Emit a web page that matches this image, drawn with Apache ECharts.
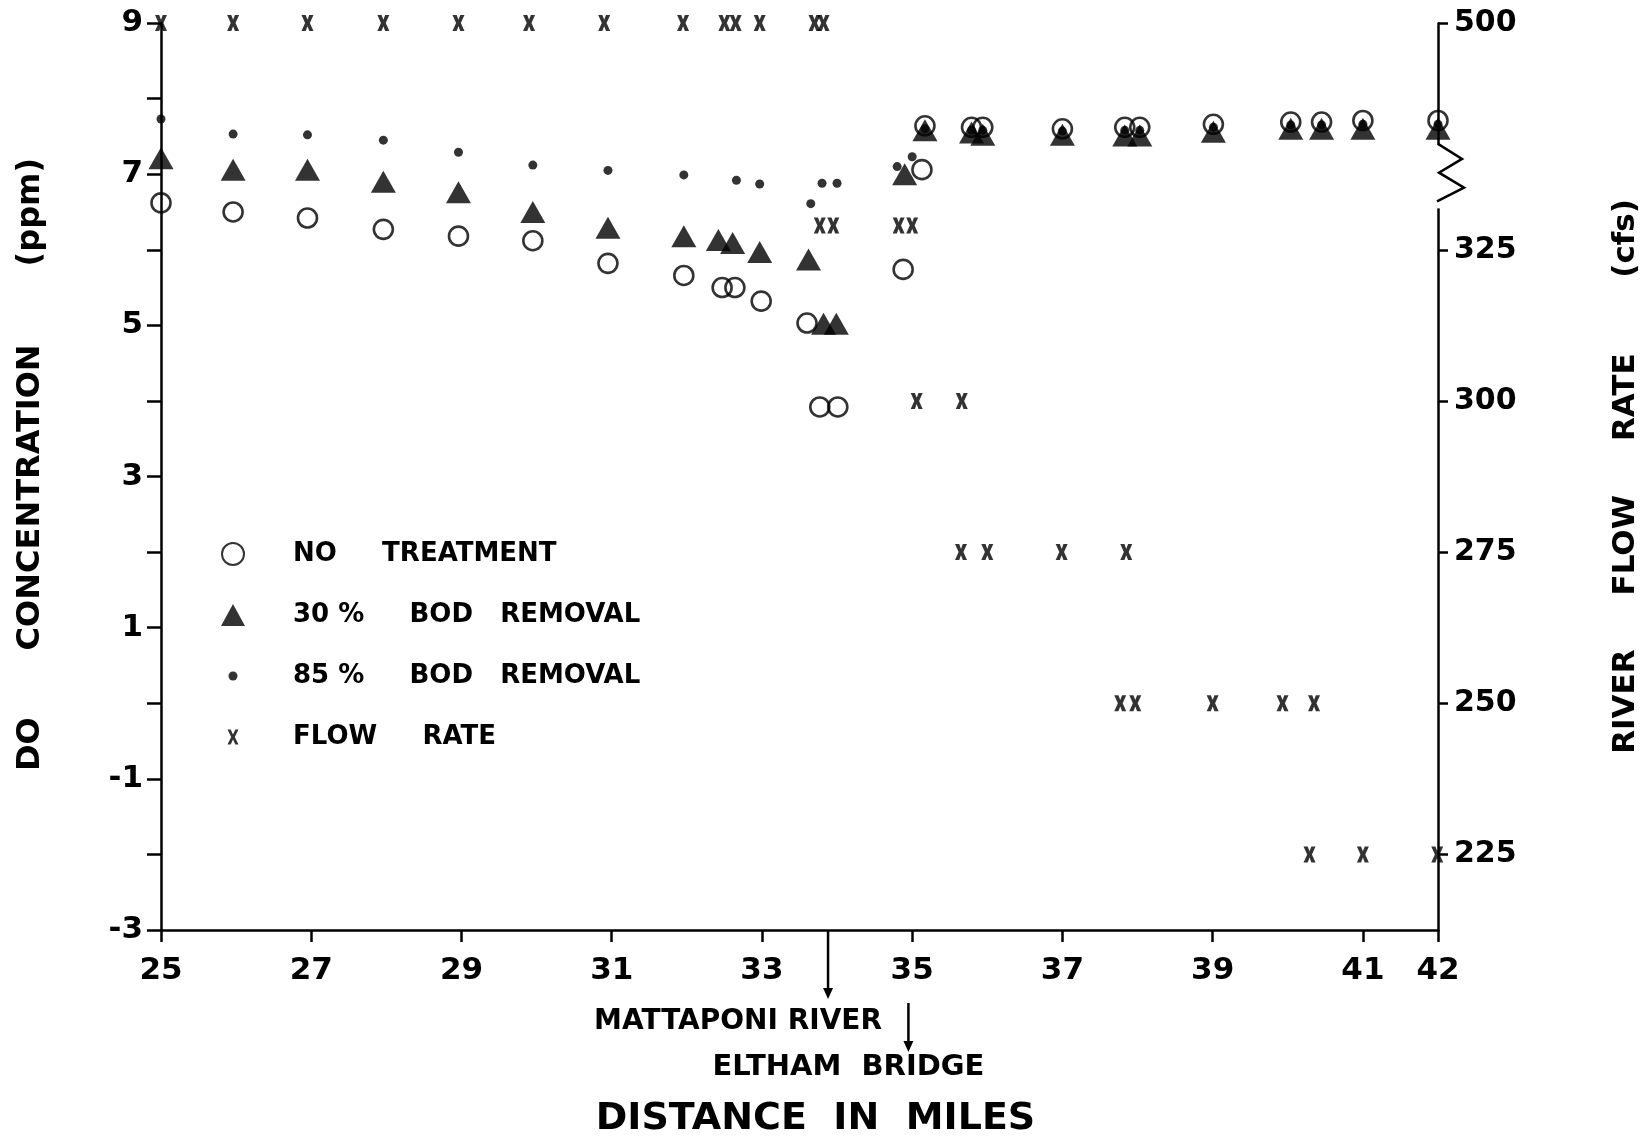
<!DOCTYPE html>
<html>
<head>
<meta charset="utf-8">
<script src="https://cdn.jsdelivr.net/npm/echarts@6.0.0/dist/echarts.min.js"></script>
<style>html,body{margin:0;padding:0;background:#fff}#c{width:1652px;height:1136px}</style>
</head>
<body>
<div id="c"></div>
<script>
// ---------------- data ----------------
const xTickValues = [25, 27, 29, 31, 33, 35, 37, 39, 41, 42];
const rightTickValues = [225, 250, 275, 300, 325, 500];

const noTreatMiles = [25, 25.96, 26.95, 27.96, 28.96, 29.95, 30.95, 31.96, 32.47, 32.64, 32.99, 33.6, 33.77, 34.01, 34.88, 35.13, 35.17, 35.79, 35.94, 37.0, 37.83, 38.03, 39.01, 40.04, 40.45, 41.0, 42.0];
const noTreatDO    = [6.62, 6.50, 6.42, 6.27, 6.18, 6.12, 5.82, 5.66, 5.50, 5.50, 5.32, 5.03, 3.92, 3.92, 5.74, 7.06, 7.64, 7.62, 7.62, 7.60, 7.62, 7.62, 7.66, 7.69, 7.69, 7.71, 7.71];

const bod30Miles = [25, 25.96, 26.95, 27.96, 28.96, 29.95, 30.95, 31.96, 32.42, 32.61, 32.97, 33.62, 33.82, 33.99, 34.9, 35.17, 35.79, 35.94, 37.0, 37.83, 38.03, 39.01, 40.04, 40.45, 41.0, 42.0];
const bod30DO    = [7.21, 7.06, 7.06, 6.90, 6.76, 6.50, 6.29, 6.18, 6.13, 6.09, 5.97, 5.87, 5.02, 5.02, 7.00, 7.58, 7.55, 7.52, 7.52, 7.51, 7.51, 7.56, 7.60, 7.60, 7.60, 7.60];

const bod85Miles = [25, 25.96, 26.95, 27.96, 28.96, 29.95, 30.95, 31.96, 32.66, 32.97, 33.65, 33.8, 34.0, 34.8, 35.0, 35.17, 35.79, 35.94, 37.0, 37.83, 38.03, 39.01, 40.04, 40.45, 41.0, 42.0];
const bod85DO    = [7.73, 7.53, 7.52, 7.45, 7.29, 7.12, 7.05, 6.99, 6.92, 6.87, 6.61, 6.88, 6.88, 7.10, 7.23, 7.60, 7.58, 7.58, 7.57, 7.58, 7.58, 7.62, 7.65, 7.65, 7.66, 7.66];

const flowMiles = [25, 25.96, 26.95, 27.96, 28.96, 29.9, 30.9, 31.95, 32.5, 32.65, 32.97, 33.7, 33.82,
                   33.77, 33.95, 34.82, 35.0,
                   35.06, 35.66,
                   35.65, 36.0, 36.99, 37.85,
                   37.77, 37.97, 39.0, 39.93, 40.35,
                   40.29, 41.0, 41.99];
const flowCfs   = [500, 500, 500, 500, 500, 500, 500, 500, 500, 500, 500, 500, 500,
                   329, 329, 329, 329,
                   300, 300,
                   275, 275, 275, 275,
                   250, 250, 250, 250, 250,
                   225, 225, 225];

const seriesNames = ['NO TREATMENT', '30 % BOD REMOVAL', '85 % BOD REMOVAL', 'FLOW RATE'];
const legendLabels = ['NO     TREATMENT', '30 %     BOD   REMOVAL', '85 %     BOD   REMOVAL', 'FLOW     RATE'];
const annotMiles = [33.88, 34.95];
const annotLabels = ['MATTAPONI RIVER', 'ELTHAM  BRIDGE'];

// ---------------- chart ----------------
const FONT = 'DejaVu Sans';
const zip = (a, b) => a.map((v, i) => [v, b[i]]);
const X_PATH = 'path://M0,0 H4.2 L6,6 L7.8,0 H12 L8.4,10 L12,20 H7.8 L6,14 L4.2,20 H0 L3.6,10 Z';
const X_ICON = 'path://M0,0 M22,22 M5.5,3.5 H8.7 L11,8.5 L13.3,3.5 H16.5 L12.8,11 L16.5,18.5 H13.3 L11,13.5 L8.7,18.5 H5.5 L9.2,11 Z';
const DOT_ICON = 'path://M0,0 M22,22 M6.5,11 A4.5,4.5 0 1,0 15.5,11 A4.5,4.5 0 1,0 6.5,11 Z';
const TRI_ICON = 'path://M12,0 L24,22 L0,22 Z';

const axisLineStyle = { color: '#000', width: 2.5 };
const labelFont = { color: '#000', fontFamily: FONT, fontWeight: 'bold' };

const chart = echarts.init(document.getElementById('c'), null, { renderer: 'canvas' });

chart.setOption({
  animation: false,
  backgroundColor: '#fff',
  grid: { left: 161, right: 214, top: 23, bottom: 206, containLabel: false, outerBoundsMode: 'none' },
  legend: {
    orient: 'vertical', left: 216, top: 536,
    itemWidth: 24, itemHeight: 22, itemGap: 35,
    selectedMode: false,
    data: [
      { name: seriesNames[0], icon: 'circle' },
      { name: seriesNames[1], icon: TRI_ICON },
      { name: seriesNames[2], icon: DOT_ICON },
      { name: seriesNames[3], icon: X_ICON }
    ],
    formatter: n => legendLabels[seriesNames.indexOf(n)],
    textStyle: Object.assign({ fontSize: 26, padding: [0, 0, 0, 43] }, labelFont)
  },
  xAxis: {
    type: 'value', min: 25, max: 42,
    axisLine: { show: true, onZero: false, lineStyle: axisLineStyle },
    axisTick: { show: true, customValues: xTickValues, length: 12, lineStyle: axisLineStyle },
    axisLabel: Object.assign({ customValues: xTickValues, margin: 25, fontSize: 31 }, labelFont),
    splitLine: { show: false },
    name: 'DISTANCE  IN  MILES', nameLocation: 'middle', nameGap: 170,
    nameTextStyle: Object.assign({ fontSize: 38, padding: [0, 0, 0, 32] }, labelFont)
  },
  yAxis: [
    {
      type: 'value', position: 'left', min: -3, max: 9, interval: 1,
      axisLine: { show: true, onZero: false, lineStyle: axisLineStyle },
      axisTick: { show: true, length: 14, lineStyle: axisLineStyle },
      axisLabel: Object.assign({ margin: 18, fontSize: 31,
        formatter: v => (Math.abs(v) % 2 === 1 ? String(v) : '') }, labelFont),
      splitLine: { show: false },
      name: 'DO      CONCENTRATION       (ppm)', nameLocation: 'middle', nameRotate: 90, nameGap: 114,
      nameTextStyle: Object.assign({ fontSize: 32, padding: [0, 0, 0, 24] }, labelFont)
    },
    {
      type: 'value', position: 'right', min: 212.5, max: 500,
      breaks: [{ start: 333, end: 480, gap: 9.5 }],
      breakArea: { show: false },
      axisLine: { show: true, onZero: false, lineStyle: axisLineStyle },
      axisTick: { show: true, customValues: rightTickValues, length: 10, lineStyle: axisLineStyle },
      axisLabel: Object.assign({ customValues: rightTickValues, margin: 16, fontSize: 30 }, labelFont),
      splitLine: { show: false },
      name: 'RIVER     FLOW     RATE       (cfs)', nameLocation: 'middle', nameRotate: 90, nameGap: 172,
      nameTextStyle: Object.assign({ fontSize: 31 }, labelFont)
    }
  ],
  series: [
    {
      name: seriesNames[1], type: 'scatter', data: zip(bod30Miles, bod30DO), clip: false,
      symbol: 'triangle', symbolSize: [25, 22], itemStyle: { color: '#000' }, z: 2,
      emphasis: { disabled: true }
    },
    {
      name: seriesNames[0], type: 'scatter', data: zip(noTreatMiles, noTreatDO), clip: false,
      symbol: 'circle', symbolSize: 19,
      itemStyle: { color: 'rgba(0,0,0,0)', borderColor: '#000', borderWidth: 2.6 }, z: 3,
      emphasis: { disabled: true }
    },
    {
      name: seriesNames[2], type: 'scatter', data: zip(bod85Miles, bod85DO), clip: false,
      symbol: 'circle', symbolSize: 9, itemStyle: { color: '#000' }, z: 4,
      emphasis: { disabled: true }
    },
    {
      name: seriesNames[3], type: 'scatter', yAxisIndex: 1, data: zip(flowMiles, flowCfs), clip: false,
      symbol: X_PATH, symbolSize: [12, 16], itemStyle: { color: '#000' }, z: 4,
      emphasis: { disabled: true }
    }
  ]
});

// ---------------- annotations (positions from the axes) ----------------
const px = v => chart.convertToPixel({ xAxisIndex: 0 }, v);
const pyR = v => chart.convertToPixel({ yAxisIndex: 1 }, v);
const yBase = chart.convertToPixel({ yAxisIndex: 0 }, -3);
const xR = px(42);
const yA = pyR(480), yB = pyR(333), h = yB - yA;
const xM = px(annotMiles[0]), xE = px(annotMiles[1]);
const txt = (s, x, y, size) => ({
  type: 'text', x: x, y: y, z: 100,
  style: { text: s, fill: '#000', font: 'bold ' + size + 'px "' + FONT + '"', align: 'center', verticalAlign: 'middle' }
});
const arrow = (x, y1, y2) => ([
  { type: 'line', z: 100, shape: { x1: x, y1: y1, x2: x, y2: y2 - 8 }, style: { stroke: '#000', lineWidth: 2.5 } },
  { type: 'polygon', z: 100, shape: { points: [[x - 5, y2 - 11], [x + 5, y2 - 11], [x, y2]] }, style: { fill: '#000' } }
]);

chart.setOption({
  graphic: [
    { type: 'rect', z: 100, shape: { x: xR - 4, y: yA + 1, width: 8, height: h + 6 }, style: { fill: '#fff' } },
    { type: 'polyline', z: 101,
      shape: { points: [[xR, yA], [xR + 24, yA + 0.26 * h], [xR + 1, yA + 0.5 * h], [xR + 26, yA + 0.76 * h], [xR - 1, yB]] },
      style: { stroke: '#000', lineWidth: 2.5, fill: null } },
    ...arrow(xM, yBase, yBase + 69),
    txt(annotLabels[0], xM - 90, yBase + 92, 28),
    ...arrow(xE, yBase + 73, yBase + 122),
    txt(annotLabels[1], xE - 60, yBase + 137, 29)
  ]
});
</script>
</body>
</html>
